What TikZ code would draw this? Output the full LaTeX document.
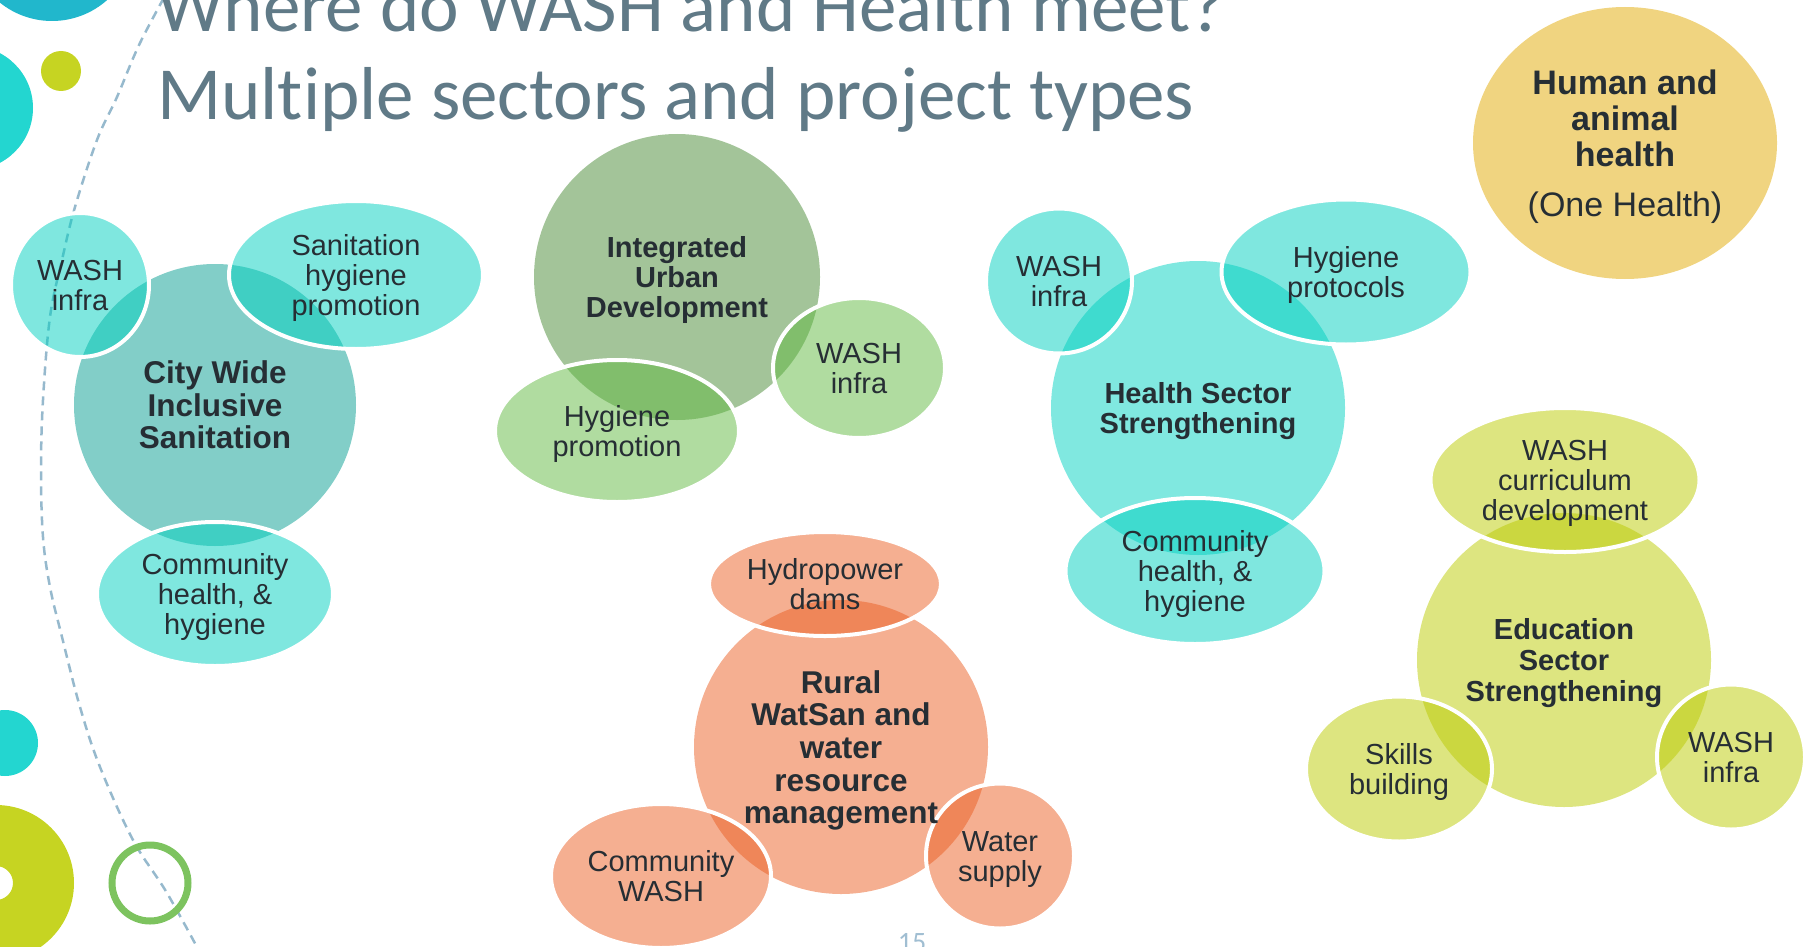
\documentclass[tikz,border=0pt]{standalone}
\usepackage{fontspec}
\setmainfont{Liberation Sans}
\newfontfamily\titlefont[Ligatures=CommonOff]{Carlito}
\usetikzlibrary{shapes.geometric}
\usepackage{xcolor}

\definecolor{ink}{RGB}{38,46,52}
\definecolor{slate}{RGB}{96,122,135}
\definecolor{pagegray}{RGB}{160,190,210}
\definecolor{dashblue}{RGB}{150,185,205}
\definecolor{deepteal}{RGB}{33,183,204}
\definecolor{aqua}{RGB}{35,214,208}
\definecolor{lime}{RGB}{198,212,34}
\definecolor{leaf}{RGB}{125,195,95}
\definecolor{cwshub}{RGB}{130,206,200}
\definecolor{tealsat}{RGB}{0,208,192}
\definecolor{healthhub}{RGB}{128,232,224}
\definecolor{iudhub}{RGB}{163,196,153}
\definecolor{greensat}{RGB}{97,185,65}
\definecolor{ruralhub}{RGB}{245,175,145}
\definecolor{orangesat}{RGB}{235,95,35}
\definecolor{eduhub}{RGB}{221,229,128}
\definecolor{limesat}{RGB}{187,203,1}
\definecolor{onehealth}{RGB}{240,212,128}

% first line of a bubble text: room above the capitals
\newcommand{\capstrut}{\rule{0pt}{0.95em}}

\begin{document}
\begin{tikzpicture}[
  x=1pt, y=-1pt,
  descent/.style={execute at end node={\rule[-#1]{0pt}{#1}}},
  bubble/.style={ellipse, inner sep=0pt, align=center, text=ink},
  hub/.style={bubble},
  sat/.style={bubble, draw=white, line width=4pt, fill opacity=0.5, text opacity=1,
    font=\fontsize{29}{30}\selectfont, descent=6.5pt},
  hublabel/.style={inner sep=0pt, align=center, text=ink},
  titletext/.style={inner sep=0pt, anchor=base west, text=slate,
    font=\titlefont\fontsize{75}{88}\selectfont}
]
\useasboundingbox (0,0) rectangle (1814,947);
\clip (0,0) rectangle (1814,947);

% Decoration on the left
\fill[deepteal] (52,-62) circle (83);
\fill[aqua] (-29,108) circle (62);
\fill[lime] (61,71) circle (20);
\fill[aqua] (5,743) circle (33);
\fill[lime, even odd rule] (-4,883) circle (78) (-4,883) circle (17);
\draw[dashblue, line width=2.5pt, dash pattern=on 9pt off 6pt]
  plot[smooth, tension=0.6] coordinates {(171,-15) (140,43) (117,97) (97,140)
  (75,207) (62,260) (50,317) (43,400) (41,470) (43,537) (50,587) (62,637)
  (80,707) (100,767) (133,840) (167,893) (204,960)};
\draw[leaf, line width=7pt] (150,883) circle (38);

% Title
\node[titletext] (title-top) at (157,32) {Where do WASH and Health meet?};
\node[titletext] (title-main) at (157,120) {Multiple sectors and project types};

% City Wide Inclusive Sanitation
\node[hub, fill=cwshub, minimum size=282pt] (cws) at (215,405) {};
\node[sat, fill=tealsat, minimum width=138pt, minimum height=144pt] (cws-wash) at (80,285) {\capstrut WASH\\infra};
\node[sat, fill=tealsat, minimum width=254pt, minimum height=148pt] (cws-promo) at (356,275) {\capstrut Sanitation\\hygiene\\promotion};
\node[sat, fill=tealsat, minimum width=236pt, minimum height=144pt] (cws-community) at (215,594) {\capstrut Community\\health, \&\\hygiene};

% Integrated Urban Development
\node[hub, fill=iudhub, minimum size=286pt] (iud) at (677,277) {};
\node[sat, fill=greensat, minimum width=244pt, minimum height=142pt] (iud-hygiene) at (617,431) {\capstrut Hygiene\\promotion};
\node[sat, fill=greensat, minimum width=172pt, minimum height=140pt] (iud-wash) at (859,368) {\capstrut WASH\\infra};

% Health Sector Strengthening
\node[hub, fill=healthhub, minimum size=294pt] (health) at (1198,408) {};
\node[sat, fill=tealsat, minimum width=146pt, minimum height=145pt] (health-wash) at (1059,281) {\capstrut WASH\\infra};
\node[sat, fill=tealsat, minimum width=249pt, minimum height=145pt] (health-protocols) at (1346,272) {\capstrut Hygiene\\protocols};
\node[sat, fill=tealsat, minimum width=259pt, minimum height=146pt] (health-community) at (1195,571) {\capstrut Community\\health, \&\\hygiene};

% Rural WatSan
\node[hub, fill=ruralhub, minimum size=294pt] (rural) at (841,747) {};
\node[sat, fill=orangesat, minimum width=232pt, minimum height=104pt] (rural-dams) at (825,584) {\capstrut Hydropower\\dams};
\node[sat, fill=orangesat, minimum width=220pt, minimum height=144pt] (rural-community) at (661,876) {\capstrut Community\\WASH};
\node[sat, fill=orangesat, minimum width=148pt, minimum height=145pt] (rural-water) at (1000,856) {\capstrut Water\\supply};

% Education Sector Strengthening
\node[hub, fill=eduhub, minimum size=294pt] (edu) at (1564,660) {};
\node[sat, fill=limesat, minimum width=269pt, minimum height=144pt] (edu-curriculum) at (1565,480) {\capstrut WASH\\curriculum\\development};
\node[sat, fill=limesat, minimum width=186pt, minimum height=145pt] (edu-skills) at (1399,769) {\capstrut Skills\\building};
\node[sat, fill=limesat, minimum width=148pt, minimum height=145pt] (edu-wash) at (1731,757) {\capstrut WASH\\infra};

% One Health
\node[hub, fill=onehealth, minimum width=304pt, minimum height=272pt,
  font=\fontsize{34}{36}\selectfont, descent=7.6pt] (onehealth) at (1625,143)
  {\capstrut\textbf{Human and}\\\textbf{animal}\\\textbf{health}\\[14pt](One Health)};

% Hub labels
\node[hublabel, descent=7pt, font=\bfseries\fontsize{31.5}{32.5}\selectfont] (cws-label) at (cws) {\capstrut City Wide\\Inclusive\\Sanitation};
\node[hublabel, descent=6.5pt, font=\bfseries\fontsize{29}{30}\selectfont] (iud-label) at (iud) {\capstrut Integrated\\Urban\\Development};
\node[hublabel, descent=6.5pt, font=\bfseries\fontsize{29}{30.5}\selectfont] (health-label) at (health) {\capstrut Health Sector\\Strengthening};
\node[hublabel, descent=7pt, font=\bfseries\fontsize{31.5}{32.7}\selectfont] (rural-label) at (rural) {\capstrut Rural\\WatSan and\\water\\resource\\management};
\node[hublabel, descent=6.5pt, font=\bfseries\fontsize{29}{30.7}\selectfont] (edu-label) at (edu) {\capstrut Education\\Sector\\Strengthening};

% Page number
\node[inner sep=0pt, anchor=base, text=pagegray, font=\titlefont\fontsize{28}{30}\selectfont] (pagenum) at (912,951) {15};
\end{tikzpicture}
\end{document}
